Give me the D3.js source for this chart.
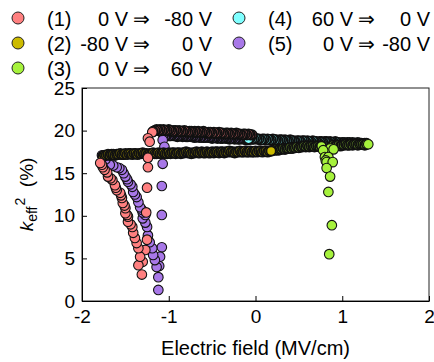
<!DOCTYPE html>
<html>
<head>
<meta charset="utf-8">
<script src="https://cdn.jsdelivr.net/npm/d3@7/dist/d3.min.js"></script>
<style>
  body { margin: 0; background: #fff; }
  svg { display: block; font-family: "Liberation Sans", Arial, sans-serif; }
</style>
</head>
<body>
<div id="chart"></div>
<script>
// ticks
const xTicks = [-2, -1, 0, 1, 2];
const yTicks = [0, 5, 10, 15, 20, 25];

// legend
const legendIds = ['(1)', '(2)', '(3)', '(4)', '(5)'];
const legendFrom = ['0 V', '-80 V', '0 V', '60 V', '0 V'];
const legendTo = ['-80 V', '0 V', '60 V', '0 V', '-80 V'];
const seriesColors = ['#ff8080', '#ccbb00', '#a6f23c', '#80ffff', '#a878e8'];

// points are listed in sweep order: [E (MV/cm), k2 (%)]

// (1) 0 V -> -80 V
const s1Plateau = [
  [-0.04,19.5],[-0.06,19.5],[-0.08,19.6],[-0.10,19.5],[-0.12,19.6],[-0.14,19.6],[-0.16,19.5],[-0.18,19.6],
  [-0.20,19.6],[-0.22,19.7],[-0.24,19.6],[-0.26,19.6],[-0.28,19.7],[-0.30,19.6],[-0.32,19.7],[-0.34,19.7],
  [-0.36,19.6],[-0.38,19.7],[-0.40,19.7],[-0.42,19.8],[-0.44,19.7],[-0.46,19.7],[-0.48,19.8],[-0.50,19.7],
  [-0.52,19.8],[-0.54,19.8],[-0.56,19.7],[-0.58,19.8],[-0.60,19.9],[-0.62,19.8],[-0.64,19.8],[-0.66,19.9],
  [-0.68,19.8],[-0.70,19.9],[-0.72,19.8],[-0.74,19.9],[-0.76,19.9],[-0.78,19.8],[-0.80,19.9],[-0.82,20.0],
  [-0.84,19.9],[-0.86,19.9],[-0.88,20.0],[-0.90,19.9],[-0.92,20.0],[-0.94,20.0],[-0.96,19.9],[-0.98,20.0],
  [-1.00,20.1],[-1.02,20.0],[-1.04,20.0],[-1.06,20.1],[-1.08,20.0],[-1.10,20.1],[-1.12,20.0],[-1.14,20.1],
  [-1.16,20.0],[-1.18,19.9]
];
const s1Switch = [
  [-1.19,19.8],[-1.24,19.1],[-1.22,18.7],[-1.24,16.8],[-1.24,15.7],[-1.25,13.3],[-1.26,10.4],
  [-1.25,7.2],[-1.27,6.0],[-1.30,4.6]
];
const s1Return = [
  [-1.31,3.1],[-1.35,4.2],[-1.33,5.2],[-1.35,6.2],[-1.37,6.8],[-1.39,7.4],[-1.41,8.0],[-1.42,8.7],
  [-1.44,9.0],[-1.47,9.3],[-1.47,9.9],[-1.48,10.1],[-1.50,10.3],[-1.50,10.9],[-1.51,11.2],[-1.53,11.5],
  [-1.54,12.1],[-1.55,12.4],[-1.56,12.7],[-1.60,13.0],[-1.61,13.3],[-1.62,13.6],[-1.65,14.2],[-1.67,14.4],
  [-1.70,14.6],[-1.71,15.1],[-1.74,15.4],[-1.76,15.7],[-1.77,16.0],[-1.79,16.2]
];

// (2) -80 V -> 0 V
const s2Plateau = [
  [-1.76,17.0],[-1.74,17.1],[-1.72,17.1],[-1.70,17.2],[-1.68,17.1],[-1.66,17.2],[-1.64,17.2],[-1.62,17.1],
  [-1.60,17.2],[-1.58,17.2],[-1.56,17.3],[-1.54,17.2],[-1.52,17.2],[-1.50,17.3],[-1.48,17.2],[-1.46,17.3],
  [-1.44,17.3],[-1.42,17.2],[-1.40,17.3],[-1.38,17.3],[-1.36,17.2],[-1.34,17.3],[-1.32,17.3],[-1.30,17.4],
  [-1.28,17.3],[-1.26,17.3],[-1.24,17.2],[-1.22,17.3],[-1.20,17.3],[-1.18,17.4],[-1.16,17.3],[-1.14,17.3],
  [-1.12,17.4],[-1.10,17.3],[-1.08,17.3],[-1.06,17.4],[-1.04,17.3],[-1.02,17.3],[-1.00,17.4],[-0.98,17.3],
  [-0.96,17.4],[-0.94,17.4],[-0.92,17.3],[-0.90,17.4],[-0.88,17.4],[-0.86,17.3],[-0.84,17.4],[-0.82,17.4],
  [-0.80,17.5],[-0.78,17.4],[-0.76,17.4],[-0.74,17.3],[-0.72,17.4],[-0.70,17.4],[-0.68,17.5],[-0.66,17.4],
  [-0.64,17.4],[-0.62,17.5],[-0.60,17.4],[-0.58,17.4],[-0.56,17.5],[-0.54,17.4],[-0.52,17.4],[-0.50,17.5],
  [-0.48,17.4],[-0.46,17.5],[-0.44,17.5],[-0.42,17.4],[-0.40,17.5],[-0.38,17.5],[-0.36,17.4],[-0.34,17.5],
  [-0.32,17.5],[-0.30,17.6],[-0.28,17.5],[-0.26,17.5],[-0.24,17.4],[-0.22,17.5],[-0.20,17.5],[-0.18,17.6],
  [-0.16,17.5],[-0.14,17.5],[-0.12,17.6],[-0.10,17.5],[-0.08,17.5],[-0.06,17.6],[-0.04,17.5],[-0.02,17.5],
  [0.00,17.6],[0.02,17.5],[0.04,17.6],[0.06,17.6],[0.08,17.5],[0.10,17.6],[0.12,17.6],[0.14,17.5],
  [0.16,17.6],[0.18,17.6]
];

// (3) 0 V -> 60 V
const s3Plateau = [
  [0.20,17.7],[0.22,17.7],[0.24,17.8],[0.26,17.7],[0.28,17.8],[0.30,17.8],[0.32,17.9],[0.34,17.8],
  [0.36,17.9],[0.38,17.9],[0.40,18.0],[0.42,17.9],[0.44,18.0],[0.46,18.0],[0.48,18.1],[0.50,18.0],
  [0.52,18.1],[0.54,18.1],[0.56,18.2],[0.58,18.1],[0.60,18.2],[0.62,18.1],[0.64,18.2],[0.66,18.2],
  [0.68,18.1],[0.70,18.2],[0.72,18.2],[0.74,18.1],[0.76,18.2],[0.88,18.2],[0.90,18.3],[0.92,18.2],
  [0.94,18.3],[0.96,18.3],[0.98,18.2],[1.00,18.3],[1.02,18.3],[1.04,18.4],[1.06,18.3],[1.08,18.3],
  [1.10,18.4],[1.12,18.3],[1.14,18.4],[1.16,18.4],[1.18,18.3],[1.20,18.4],[1.22,18.4],[1.24,18.4],
  [1.26,18.3],[1.28,18.4]
];
const s3Switch = [
  [0.86,17.9],[0.90,17.8],[0.78,17.7],[0.80,16.9],[0.84,16.9],[0.81,16.5],[0.82,16.3],[0.89,16.3],
  [0.82,15.6],[0.86,14.6],[0.84,12.8],[0.88,8.9],[0.85,5.5],[1.30,18.4]
];

// (4) 60 V -> 0 V
const s4Plateau = [
  [1.28,18.5],[1.26,18.5],[1.24,18.4],[1.22,18.5],[1.20,18.5],[1.18,18.6],[1.16,18.5],[1.14,18.5],
  [1.12,18.6],[1.10,18.5],[1.08,18.6],[1.06,18.6],[1.04,18.5],[1.02,18.6],[1.00,18.6],[0.98,18.5],
  [0.96,18.6],[0.94,18.6],[0.92,18.7],[0.90,18.6],[0.88,18.6],[0.86,18.7],[0.84,18.6],[0.82,18.7],
  [0.80,18.7],[0.78,18.6],[0.76,18.7],[0.74,18.7],[0.72,18.6],[0.70,18.7],[0.68,18.7],[0.66,18.8],
  [0.64,18.7],[0.62,18.7],[0.60,18.8],[0.58,18.7],[0.56,18.8],[0.54,18.8],[0.52,18.7],[0.50,18.8],
  [0.48,18.8],[0.46,18.7],[0.44,18.8],[0.42,18.8],[0.40,18.9],[0.38,18.8],[0.36,18.8],[0.34,18.9],
  [0.32,18.8],[0.30,18.9],[0.28,18.9],[0.26,18.8],[0.24,18.9],[0.22,18.9],[0.20,19.0],[0.18,18.9],
  [0.16,18.9],[0.14,19.0],[0.12,18.9],[0.10,19.0],[0.08,19.0],[0.06,18.9],[0.04,19.0],[0.02,19.0],
  [0.00,19.1],[-0.02,19.0],[-0.04,19.0],[-0.06,19.1],[-0.08,19.0]
];

// (5) 0 V -> -80 V
const s5Plateau = [
  [-0.06,19.0],[-0.08,19.0],[-0.10,18.9],[-0.12,19.0],[-0.14,19.0],[-0.16,19.1],[-0.18,19.0],[-0.20,19.0],
  [-0.22,19.1],[-0.24,19.0],[-0.26,19.1],[-0.28,19.1],[-0.30,19.0],[-0.32,19.1],[-0.34,19.1],[-0.36,19.2],
  [-0.38,19.1],[-0.40,19.1],[-0.42,19.2],[-0.44,19.1],[-0.46,19.2],[-0.48,19.2],[-0.50,19.1],[-0.52,19.2],
  [-0.54,19.2],[-0.56,19.3],[-0.58,19.2],[-0.60,19.2],[-0.62,19.3],[-0.64,19.2],[-0.66,19.3],[-0.68,19.3],
  [-0.70,19.2],[-0.72,19.3],[-0.74,19.3],[-0.76,19.4],[-0.78,19.3],[-0.80,19.3],[-0.82,19.4],[-0.84,19.3],
  [-0.86,19.4],[-0.88,19.4],[-0.90,19.3],[-0.92,19.4],[-0.94,19.4],[-0.96,19.5],[-0.98,19.4],[-1.00,19.4],
  [-1.02,19.5],[-1.04,19.4],[-1.06,19.5]
];
const s5Switch = [
  [-1.07,18.9],[-1.05,18.1],[-1.07,16.1],[-1.08,13.5],[-1.08,10.1],[-1.08,6.3],[-1.10,5.2],[-1.11,4.1]
];
const s5Return = [
  [-1.12,1.3],[-1.12,2.8],[-1.14,4.0],[-1.16,4.8],[-1.18,5.4],[-1.19,6.2],[-1.22,6.9],[-1.24,7.7],
  [-1.25,8.7],[-1.27,9.2],[-1.30,9.7],[-1.27,10.1],[-1.30,10.4],[-1.31,10.7],[-1.33,11.0],[-1.35,11.6],
  [-1.37,12.2],[-1.39,12.5],[-1.41,12.8],[-1.42,13.4],[-1.44,13.7],[-1.47,14.0],[-1.48,14.3],[-1.50,14.6],
  [-1.52,15.0],[-1.54,15.4],[-1.57,15.6],[-1.60,15.7],[-1.64,15.9],[-1.68,16.0],[-1.73,16.6],[-1.77,17.1]
];

// plateaus are dense runs of points: their outlines pile up into a dark band
const series = [
  { dense: s1Plateau, sparse: s1Switch.concat(s1Return) },
  { dense: s2Plateau, sparse: [] },
  { dense: s3Plateau, sparse: s3Switch },
  { dense: s4Plateau, sparse: [] },
  { dense: s5Plateau, sparse: s5Switch.concat(s5Return) }
];

const width = 434, height = 362;
const margin = { top: 88, right: 5, bottom: 61, left: 82 };

const svg = d3.select('#chart')
  .append('svg')
  .attr('width', width)
  .attr('height', height);

const x = d3.scaleLinear().domain([-2, 2]).range([margin.left, width - margin.right]);
const y = d3.scaleLinear().domain([0, 25]).range([height - margin.bottom, margin.top]);

// DATA (last series first, so (1) ends up on top)
for (let i = series.length - 1; i >= 0; i--) {
  const g = svg.append('g').attr('fill', seriesColors[i]).attr('stroke', '#111');
  g.selectAll('circle.dense')
    .data(series[i].dense)
    .enter()
    .append('circle')
    .attr('class', 'dense')
    .attr('cx', d => x(d[0]))
    .attr('cy', d => y(d[1]))
    .attr('r', 4.7)
    .attr('stroke-width', 1.85);
  g.selectAll('circle.sparse')
    .data(series[i].sparse)
    .enter()
    .append('circle')
    .attr('class', 'sparse')
    .attr('cx', d => x(d[0]))
    .attr('cy', d => y(d[1]))
    .attr('r', 4.8)
    .attr('stroke-width', 1.1);
}

// FRAME
svg.append('rect')
  .attr('x', x(-2))
  .attr('y', y(25))
  .attr('width', x(2) - x(-2))
  .attr('height', y(0) - y(25))
  .attr('fill', 'none')
  .attr('stroke', '#222')
  .attr('stroke-width', 1);

// X AXIS
const xAxisGroup = svg.append('g')
  .attr('transform', `translate(0,${y(0)})`)
  .call(d3.axisBottom(x).tickValues(xTicks).tickFormat(d => String(d))
    .tickSizeInner(-5).tickSizeOuter(0).tickPadding(9));
xAxisGroup.attr('font-size', 19).attr('font-family', null);
xAxisGroup.selectAll('text').attr('fill', '#000');
xAxisGroup.select('.domain').attr('stroke', '#000');

// Y AXIS
const yAxisGroup = svg.append('g')
  .attr('transform', `translate(${x(-2)},0)`)
  .call(d3.axisLeft(y).tickValues(yTicks).tickFormat(d => String(d))
    .tickSizeInner(-5).tickSizeOuter(0).tickPadding(7));
yAxisGroup.attr('font-size', 19).attr('font-family', null);
yAxisGroup.selectAll('text').attr('fill', '#000');
yAxisGroup.select('.domain').attr('stroke', '#000');

svg.append('text')
  .attr('x', (x(-2) + x(2)) / 2)
  .attr('y', 355)
  .attr('text-anchor', 'middle')
  .style('font-size', '20px')
  .text('Electric field (MV/cm)');

const yTitle = svg.append('text')
  .attr('transform', `translate(33,${(y(0) + y(25)) / 2}) rotate(-90)`)
  .attr('text-anchor', 'middle')
  .style('font-size', '19px');
yTitle.append('tspan').style('font-style', 'italic').text('k');
yTitle.append('tspan').attr('dy', 4).style('font-size', '14px').text('eff');
yTitle.append('tspan').attr('dy', -12).attr('dx', 1).style('font-size', '14px').text('2');
yTitle.append('tspan').attr('dy', 8).text('\u00a0\u00a0(%)');

// LEGEND
const colMarker = [18, 239], colId = [47, 268], colFrom = [128, 353], colArrow = [133, 358], colTo = [212, 430];
const rowBase = [26, 51, 76];
legendIds.forEach((id, i) => {
  const c = i < 3 ? 0 : 1;
  const r = i < 3 ? i : i - 3;
  const g = svg.append('g').style('font-size', '20px');
  g.append('circle')
    .attr('cx', colMarker[c])
    .attr('cy', rowBase[r] - 8)
    .attr('r', 6)
    .attr('fill', seriesColors[i])
    .attr('stroke', '#222');
  g.append('text').attr('x', colId[c]).attr('y', rowBase[r]).text(id);
  g.append('text').attr('x', colFrom[c]).attr('y', rowBase[r]).attr('text-anchor', 'end').text(legendFrom[i]);
  g.append('text').attr('x', colArrow[c]).attr('y', rowBase[r]).text('\u21d2');
  g.append('text').attr('x', colTo[c]).attr('y', rowBase[r]).attr('text-anchor', 'end').text(legendTo[i]);
});
</script>
</body>
</html>
